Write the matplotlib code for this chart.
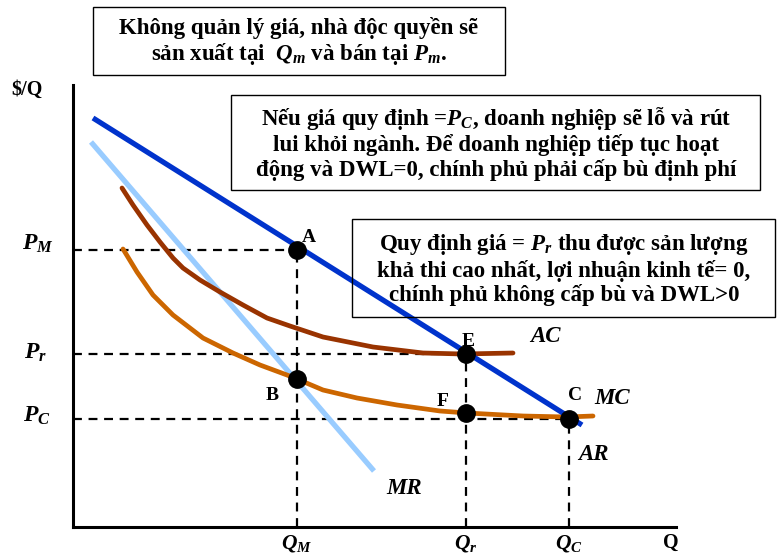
import matplotlib
matplotlib.use("Agg")
from matplotlib import pyplot
from matplotlib.patches import Rectangle

pyplot.rcParams['font.family'] = 'Liberation Serif'
pyplot.rcParams['font.weight'] = 'bold'
pyplot.rcParams['mathtext.fontset'] = 'custom'
pyplot.rcParams['mathtext.it'] = 'Liberation Serif:italic:bold'
pyplot.rcParams['mathtext.rm'] = 'Liberation Serif:bold'
pyplot.rcParams['mathtext.bf'] = 'Liberation Serif:bold'

# key quantities and prices (arbitrary units)
q_m, q_r, q_c = 22.4, 39.3, 49.6
p_m, p_r, p_c = 27.7, 17.3, 10.8
p_b, p_f = 14.8, 11.4
q_axis_end, p_axis_end = 60.3, 44.2

# demand (AR) and marginal revenue lines
ar_q = [2.0, 50.9]
ar_p = [40.9, 10.2]
mr_q = [1.8, 30.1]
mr_p = [38.5, 5.6]

# average cost curve
ac_q = [4.9, 6.0, 7.4, 8.7, 10.0, 11.0, 12.7, 14.7, 17.0, 19.4, 21.7, 25.0, 30.0, 35.0, 39.0, 44.0]
ac_p = [33.9, 32.2, 30.2, 28.5, 26.9, 25.9, 24.7, 23.5, 22.2, 20.9, 20.1, 19.0, 18.0, 17.4, 17.3, 17.4]

# marginal cost curve
mc_q = [5.0, 6.4, 8.0, 10.0, 13.0, 16.0, 18.7, 21.4, 22.4, 25.0, 28.4, 32.4, 36.7, 39.4, 45.0, 49.4, 52.0]
mc_p = [27.8, 25.5, 23.2, 21.2, 18.9, 17.4, 16.2, 15.2, 14.8, 13.7, 12.9, 12.2, 11.6, 11.4, 11.1, 11.0, 11.1]

point_names = ['A', 'B', 'E', 'F', 'C']
point_q = [q_m, q_m, q_r, q_r, q_c]
point_p = [p_m, p_b, p_r, p_f, p_c]

fig = pyplot.figure(figsize=(7.77, 5.54), dpi=100)

# economics axes: origin at pixel (73, 527), 10 px per unit
ax = fig.add_axes([0, 0, 1, 1])
ax.set_xlim(-7.3, 70.4)
ax.set_ylim(-2.7, 52.7)
ax.axis('off')

dash_kw = dict(color='k', lw=1.6, dashes=(4, 3), zorder=2)
ax.plot([0, q_m], [p_m, p_m], **dash_kw)
ax.plot([0, q_r], [p_r, p_r], **dash_kw)
ax.plot([0, q_c], [p_c, p_c], **dash_kw)
ax.plot([q_m, q_m], [0, p_m], **dash_kw)
ax.plot([q_r, q_r], [0, p_r], **dash_kw)
ax.plot([q_c, q_c], [0, p_c], **dash_kw)

ax.plot(mr_q, mr_p, color='#99ccff', lw=3.8, solid_capstyle='butt', zorder=3)
ax.plot(ac_q, ac_p, color='#993300', lw=3.4, solid_capstyle='round', solid_joinstyle='round', zorder=3)
ax.plot(mc_q, mc_p, color='#cc6600', lw=3.4, solid_capstyle='round', solid_joinstyle='round', zorder=3)
ax.plot(ar_q, ar_p, color='#0033cc', lw=3.8, solid_capstyle='butt', zorder=4)

ax.plot([0, 0], [0, p_axis_end], color='k', lw=2.2, zorder=5)
ax.plot([0, q_axis_end], [0, 0], color='k', lw=2.2, zorder=5)

ax.plot(point_q, point_p, 'o', color='k', ms=12.5, zorder=6)

# overlay in pixel coordinates for text and boxes
ov = fig.add_axes([0, 0, 1, 1])
ov.set_xlim(0, 777)
ov.set_ylim(554, 0)
ov.axis('off')
ov.patch.set_alpha(0)

box_kw = dict(fill=False, ec='k', lw=1.0)
ov.add_patch(Rectangle((93, 7), 412, 68, **box_kw))
ov.add_patch(Rectangle((231, 95), 529, 95, **box_kw))
ov.add_patch(Rectangle((352, 219), 423, 98, **box_kw))

bold = dict(family='Liberation Serif', fontweight='bold')
box_fs = 16.5
ov.text(299, 42, "Không quản lý giá, nhà độc quyền sẽ\nsản xuất tại  $Q_m$ và bán tại $P_m$.",
        ha='center', va='center', fontsize=box_fs, linespacing=1.12, **bold)
ov.text(496, 143, "Nếu giá quy định =$P_C$, doanh nghiệp sẽ lỗ và rút\n"
        "lui khỏi ngành. Để doanh nghiệp tiếp tục hoạt\n"
        "động và DWL=0, chính phủ phải cấp bù định phí",
        ha='center', va='center', fontsize=box_fs, linespacing=1.12, **bold)
ov.text(564, 269, "Quy định giá = $P_r$ thu được sản lượng\n"
        "khả thi cao nhất, lợi nhuận kinh tế= 0,\n"
        "chính phủ không cấp bù và DWL>0",
        ha='center', va='center', fontsize=box_fs, linespacing=1.12, **bold)

ov.text(27, 90, "$/Q", ha='center', va='center', fontsize=14.5, **bold)
ov.text(38, 244, "$P_M$", ha='center', va='center', fontsize=17)
ov.text(35, 353, "$P_r$", ha='center', va='center', fontsize=17)
ov.text(37, 416, "$P_C$", ha='center', va='center', fontsize=17)
ov.text(297, 543, "$Q_M$", ha='center', va='center', fontsize=15.5)
ov.text(466, 543, "$Q_r$", ha='center', va='center', fontsize=15.5)
ov.text(569, 543, "$Q_C$", ha='center', va='center', fontsize=15.5)
ov.text(671, 543, "Q", ha='center', va='center', fontsize=14.5, **bold)

pt_labels = {'A': (309, 237), 'B': (272, 395), 'E': (468, 341), 'F': (443, 401), 'C': (575, 395)}
for name in point_names:
    x, y = pt_labels[name]
    ov.text(x, y, name, ha='center', va='center', fontsize=14, **bold)

curve_labels = {'AC': (545, 336), 'MC': (612, 399), 'AR': (593, 455), 'MR': (404, 489)}
for name, (x, y) in curve_labels.items():
    ov.text(x, y, name, ha='center', va='center', fontsize=16.5, style='italic', **bold)

fig.savefig('out.png', dpi=100)
